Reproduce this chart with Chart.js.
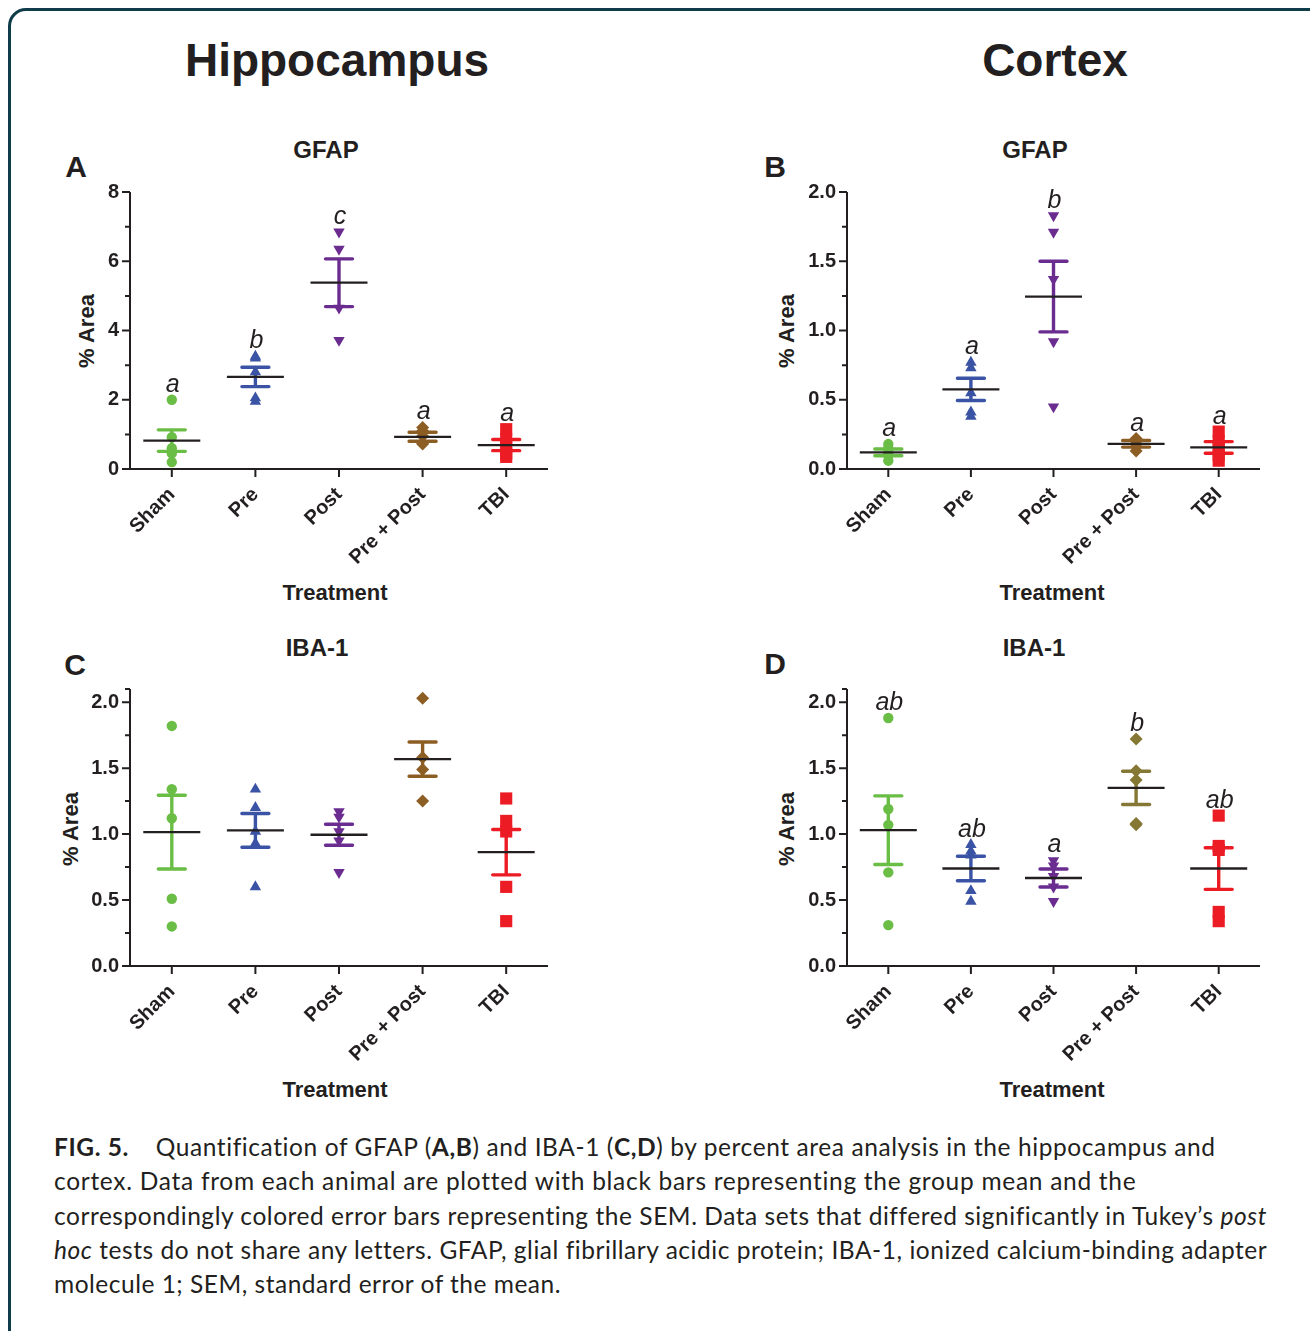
<!DOCTYPE html>
<html><head><meta charset="utf-8">
<script src="https://cdn.jsdelivr.net/npm/chart.js@4.4.0/dist/chart.umd.min.js"></script>
<style>
html,body{margin:0;padding:0;background:#fff;width:1310px;height:1331px;overflow:hidden;position:relative;}
#frame{position:absolute;left:8px;top:8px;width:1340px;height:1400px;border:3.5px solid #0e3c49;border-radius:18px;box-sizing:border-box;}
.t{position:absolute;color:#231f20;font-family:"Liberation Sans",Arial,sans-serif;font-weight:bold;white-space:nowrap;transform:translate(-50%,-50%);line-height:1;}
.rot{transform:translate(-50%,-50%) rotate(-90deg);}
canvas{position:absolute;}
#cap{position:absolute;left:54px;top:1130px;font-family:Lato,"Open Sans",sans-serif;font-size:24.5px;line-height:34.3px;color:#231f20;}
#cap .ln{white-space:nowrap;display:block;}
#cap .ln span.in{display:inline-block;}
</style>
</head><body>
<div id="frame"></div>
<div class="t" style="left:337px;top:60px;font-size:46px;">Hippocampus</div>
<div class="t" style="left:1055px;top:60px;font-size:46px;">Cortex</div>

<div class="t" style="left:76px;top:167px;font-size:30px;">A</div>
<div class="t" style="left:775px;top:167px;font-size:30px;">B</div>
<div class="t" style="left:75px;top:665px;font-size:30px;">C</div>
<div class="t" style="left:775px;top:664px;font-size:30px;">D</div>

<div class="t" style="left:326px;top:150px;font-size:24px;">GFAP</div>
<div class="t" style="left:1035px;top:150px;font-size:24px;">GFAP</div>
<div class="t" style="left:317px;top:648px;font-size:24px;">IBA-1</div>
<div class="t" style="left:1034px;top:648px;font-size:24px;">IBA-1</div>

<div class="t rot" style="left:87px;top:331px;font-size:22px;">% Area</div>
<div class="t rot" style="left:787px;top:331px;font-size:22px;">% Area</div>
<div class="t rot" style="left:71px;top:829px;font-size:22px;">% Area</div>
<div class="t rot" style="left:787px;top:829px;font-size:22px;">% Area</div>

<div class="t" style="left:335px;top:593px;font-size:22px;">Treatment</div>
<div class="t" style="left:1052px;top:593px;font-size:22px;">Treatment</div>
<div class="t" style="left:335px;top:1090px;font-size:22px;">Treatment</div>
<div class="t" style="left:1052px;top:1090px;font-size:22px;">Treatment</div>

<canvas id="cA" width="550" height="450" style="left:30px;top:175px;"></canvas>
<canvas id="cB" width="550" height="450" style="left:747px;top:175px;"></canvas>
<canvas id="cC" width="550" height="450" style="left:30px;top:672px;"></canvas>
<canvas id="cD" width="550" height="450" style="left:747px;top:672px;"></canvas>

<div id="cap">
<div class="ln" data-w="1162"><span class="in"><b>FIG. 5.</b><span style="display:inline-block;width:20px"></span> Quantification of GFAP (<b>A,B</b>) and IBA-1 (<b>C,D</b>) by percent area analysis in the hippocampus and</span></div>
<div class="ln" data-w="1082"><span class="in">cortex. Data from each animal are plotted with black bars representing the group mean and the</span></div>
<div class="ln" data-w="1212"><span class="in">correspondingly colored error bars representing the SEM. Data sets that differed significantly in Tukey’s <i>post</i></span></div>
<div class="ln" data-w="1212"><span class="in"><i>hoc</i> tests do not share any letters. GFAP, glial fibrillary acidic protein; IBA-1, ionized calcium-binding adapter</span></div>
<div class="ln" data-w="507"><span class="in">molecule 1; SEM, standard error of the mean.</span></div>
</div>

<script>
// ---------- DATA ----------
const categories = ['Sham', 'Pre', 'Post', 'Pre + Post', 'TBI'];

// A: Hippocampus GFAP (% area)
const hipGfapSham = [2.0, 0.92, 0.6, 0.45, 0.2];
const hipGfapPre = [3.25, 3.2, 2.8, 2.05, 1.95];
const hipGfapPost = [6.85, 6.35, 4.65, 3.72];
const hipGfapPrePost = [1.2, 1.1, 0.95, 0.75, 0.72];
const hipGfapTBI = [1.15, 0.85, 0.65, 0.45, 0.35];
const hipGfapMean = [0.82, 2.66, 5.38, 0.93, 0.69];
const hipGfapSem = [0.31, 0.28, 0.69, 0.13, 0.16];
const hipGfapLetters = ['a', 'b', 'c', 'a', 'a'];
const hipGfapTicks = ['0', '2', '4', '6', '8'];

// B: Cortex GFAP
const ctxGfapSham = [0.18, 0.15, 0.12, 0.10, 0.06];
const ctxGfapPre = [0.77, 0.73, 0.55, 0.41, 0.38];
const ctxGfapPost = [1.83, 1.71, 1.37, 0.92, 0.45];
const ctxGfapPrePost = [0.22, 0.20, 0.18, 0.16, 0.13];
const ctxGfapTBI = [0.27, 0.20, 0.15, 0.10, 0.06];
const ctxGfapMean = [0.12, 0.575, 1.245, 0.182, 0.156];
const ctxGfapSem = [0.024, 0.08, 0.255, 0.024, 0.042];
const ctxGfapLetters = ['a', 'a', 'b', 'a', 'a'];
const ctxGfapTicks = ['0.0', '0.5', '1.0', '1.5', '2.0'];

// C: Hippocampus IBA-1
const hipIbaSham = [1.82, 1.34, 1.12, 0.51, 0.30];
const hipIbaPre = [1.34, 1.20, 1.02, 0.93, 0.60];
const hipIbaPost = [1.17, 1.13, 1.02, 0.95, 0.71];
const hipIbaPrePost = [2.03, 1.58, 1.49, 1.25];
const hipIbaTBI = [1.27, 1.10, 1.02, 0.60, 0.34];
const hipIbaMean = [1.015, 1.028, 0.995, 1.568, 0.863];
const hipIbaSem = [0.28, 0.128, 0.08, 0.13, 0.172];
const hipIbaLetters = ['', '', '', '', ''];
const hipIbaTicks = ['0.0', '0.5', '1.0', '1.5', '2.0'];

// D: Cortex IBA-1
const ctxIbaSham = [1.88, 1.19, 1.07, 0.71, 0.31];
const ctxIbaPre = [0.92, 0.87, 0.84, 0.57, 0.49];
const ctxIbaPost = [0.80, 0.76, 0.68, 0.60, 0.49];
const ctxIbaPrePost = [1.72, 1.48, 1.41, 1.08, 1.07];
const ctxIbaTBI = [1.14, 0.91, 0.88, 0.41, 0.34];
const ctxIbaMean = [1.03, 0.739, 0.667, 1.35, 0.739];
const ctxIbaSem = [0.26, 0.093, 0.068, 0.126, 0.158];
const ctxIbaLetters = ['ab', 'ab', 'a', 'b', 'ab'];
const ctxIbaTicks = ['0.0', '0.5', '1.0', '1.5', '2.0'];

// ---------- STYLE ----------
const INK = '#231f20';
const colorsMain = ['#6abd45', '#3a53a4', '#6b2c90', '#8c5e24', '#ec1c24'];
const colorsD = ['#6abd45', '#3a53a4', '#6b2c90', '#857834', '#ec1c24'];
const pStyles = ['circle', 'triangle', 'triangle', 'rectRot', 'rect'];
const pRadius = [5.2, 6.6, 6.6, 6.5, 8.6];
const pRot = [0, 0, 180, 0, 0];
const FONT = '"Liberation Sans", Arial, sans-serif';

function makePanel(id, groups, means, sems, letters, tickLabels, yMax, yStep, colors, rightPad) {
  const majorVals = tickLabels.map(parseFloat);
  const overlay = {
    id: 'overlay_' + id,
    afterDatasetsDraw(chart) {
      const {ctx, scales: {x, y}} = chart;
      ctx.save();
      means.forEach((m, i) => {
        const px = x.getPixelForValue(i);
        const pm = y.getPixelForValue(m);
        const pu = y.getPixelForValue(m + sems[i]);
        const pl = y.getPixelForValue(m - sems[i]);
        ctx.strokeStyle = colors[i];
        ctx.lineWidth = 3.4;
        ctx.lineCap = 'butt';
        ctx.beginPath(); ctx.moveTo(px, pu); ctx.lineTo(px, pl); ctx.stroke();
        ctx.lineCap = 'round';
        ctx.beginPath();
        ctx.moveTo(px - 13.5, pu); ctx.lineTo(px + 13.5, pu);
        ctx.moveTo(px - 13.5, pl); ctx.lineTo(px + 13.5, pl);
        ctx.stroke();
        ctx.lineCap = 'butt';
        ctx.strokeStyle = INK;
        ctx.lineWidth = 2.3;
        ctx.beginPath(); ctx.moveTo(px - 28.5, pm); ctx.lineTo(px + 28.5, pm); ctx.stroke();
      });
      ctx.restore();
    },
    afterDraw(chart) {
      const {ctx, scales: {x, y}, chartArea: ca} = chart;
      ctx.save();
      ctx.strokeStyle = INK;
      ctx.lineWidth = 2;
      ctx.beginPath();
      ctx.moveTo(ca.left, ca.top); ctx.lineTo(ca.left, ca.bottom + 1);
      ctx.moveTo(ca.left - 1, ca.bottom); ctx.lineTo(ca.right, ca.bottom);
      y.ticks.forEach(t => {
        const py = y.getPixelForValue(t.value);
        const major = majorVals.some(v => Math.abs(v - t.value) < 1e-9);
        ctx.moveTo(ca.left - (major ? 8 : 5), py); ctx.lineTo(ca.left, py);
      });
      categories.forEach((c, i) => {
        const px = x.getPixelForValue(i);
        ctx.moveTo(px, ca.bottom); ctx.lineTo(px, ca.bottom + 8);
      });
      ctx.stroke();
      // significance letters
      ctx.fillStyle = INK;
      ctx.font = 'italic 25px ' + FONT;
      ctx.textAlign = 'center';
      ctx.textBaseline = 'alphabetic';
      letters.forEach((l, i) => {
        if (!l) return;
        const top = Math.max(...groups[i]);
        ctx.fillText(l, x.getPixelForValue(i) + 1, y.getPixelForValue(top) - 8);
      });
      ctx.restore();
    }
  };
  return new Chart(document.getElementById(id), {
    type: 'scatter',
    data: {
      labels: categories,
      datasets: groups.map((vals, i) => ({
        data: vals.map(v => ({x: categories[i], y: v})),
        pointStyle: pStyles[i],
        pointRadius: pRadius[i],
        pointRotation: pRot[i],
        backgroundColor: colors[i],
        borderColor: colors[i],
        pointBorderWidth: 0,
        showLine: false,
        clip: false
      }))
    },
    options: {
      responsive: false,
      animation: false,
      events: [],
      layout: {padding: {left: 0, top: 17, right: rightPad, bottom: 0}},
      plugins: {legend: {display: false}, tooltip: {enabled: false}},
      scales: {
        x: {
          type: 'category', labels: categories, offset: true,
          grid: {display: false}, border: {display: false},
          ticks: {
            autoSkip: false, minRotation: 45, maxRotation: 45, padding: 6,
            color: INK, font: {family: FONT, size: 20, weight: 'bold'}
          },
          afterFit(s) { s.height = 156; s.paddingLeft = 0; s.paddingRight = 0; }
        },
        y: {
          type: 'linear', min: 0, max: yMax, bounds: 'data',
          grid: {display: false}, border: {display: false},
          ticks: {
            stepSize: yStep, includeBounds: false, autoSkip: false, padding: 3,
            color: INK, font: {family: FONT, size: 20, weight: 'bold'},
            callback(v) {
              const k = majorVals.findIndex(m => Math.abs(m - v) < 1e-9);
              return k >= 0 ? tickLabels[k] : '';
            }
          },
          afterFit(s) { s.width = 100; s.paddingTop = 0; s.paddingBottom = 0; }
        }
      }
    },
    plugins: [overlay]
  });
}

makePanel('cA', [hipGfapSham, hipGfapPre, hipGfapPost, hipGfapPrePost, hipGfapTBI],
  hipGfapMean, hipGfapSem, hipGfapLetters, hipGfapTicks, 8, 1, colorsMain, 32);
makePanel('cB', [ctxGfapSham, ctxGfapPre, ctxGfapPost, ctxGfapPrePost, ctxGfapTBI],
  ctxGfapMean, ctxGfapSem, ctxGfapLetters, ctxGfapTicks, 2, 0.25, colorsMain, 37);
makePanel('cC', [hipIbaSham, hipIbaPre, hipIbaPost, hipIbaPrePost, hipIbaTBI],
  hipIbaMean, hipIbaSem, hipIbaLetters, hipIbaTicks, 2.1, 0.25, colorsMain, 32);
makePanel('cD', [ctxIbaSham, ctxIbaPre, ctxIbaPost, ctxIbaPrePost, ctxIbaTBI],
  ctxIbaMean, ctxIbaSem, ctxIbaLetters, ctxIbaTicks, 2.1, 0.25, colorsD, 37);

// fit caption lines to the reference line lengths
document.querySelectorAll('#cap .ln').forEach(ln => {
  const inner = ln.querySelector('span.in');
  const target = parseFloat(ln.dataset.w);
  const w = inner.getBoundingClientRect().width;
  const n = inner.textContent.length;
  ln.style.letterSpacing = ((target - w) / n) + 'px';
});
</script>
</body></html>
